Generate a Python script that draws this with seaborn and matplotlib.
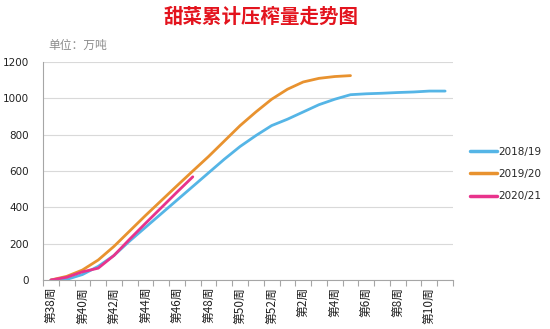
import numpy as np
import pandas as pd
import matplotlib
matplotlib.use("Agg")
import matplotlib.pyplot as plt
import seaborn as sns
from matplotlib.ticker import FixedLocator
from matplotlib.lines import Line2D

weeks = [f"第{w}周" for w in list(range(38, 53)) + list(range(1, 12))]
s1819 = [0, 3, 30, 75, 135, 215, 290, 365, 440, 515, 590, 665, 735, 795, 850, 885,
         925, 965, 995, 1020, 1025, 1028, 1032, 1035, 1040, 1040]
s1920 = [0, 20, 55, 110, 185, 270, 355, 437, 519, 600, 680, 765, 850, 925, 995, 1050,
         1090, 1110, 1120, 1125]
s2021 = [0, 15, 45, 65, 135, 225, 312, 398, 484, 568]
series_names = ["2018/19", "2019/20", "2020/21"]
colors = ["#55b5e6", "#e8922f", "#e8338c"]

rows = []
for name, vals in zip(series_names, [s1819, s1920, s2021]):
    for i, v in enumerate(vals):
        rows.append({"idx": i, "value": v, "season": name})
df = pd.DataFrame(rows)

sns.set_theme(style="white")
plt.rcParams["font.family"] = ["Noto Sans CJK SC", "DejaVu Sans"]

fig = plt.figure(figsize=(5.5, 3.29), dpi=100)
ax = fig.add_axes([43 / 550, 1 - 280 / 329, 410 / 550, 218 / 329])
sns.lineplot(data=df, x="idx", y="value", hue="season", palette=colors,
             linewidth=2.0, ax=ax, legend=False)

ax.set_xlim(-0.5, len(weeks) - 0.5)
ax.set_ylim(0, 1200)
ax.set_yticks(range(0, 1201, 200))
ax.set_yticklabels([str(v) for v in range(0, 1201, 200)], family="DejaVu Sans",
                   fontsize=7.5, color="#222222")
ax.yaxis.grid(True, color="#d9d9d9", linewidth=0.8)
ax.xaxis.grid(False)
for sp in ["top", "right"]:
    ax.spines[sp].set_visible(False)
ax.spines["left"].set_color("#a6a6a6")
ax.spines["bottom"].set_color("#a6a6a6")
ax.spines["left"].set_linewidth(0.8)
ax.spines["bottom"].set_linewidth(0.8)

label_idx = list(range(0, len(weeks), 2))
ax.set_xticks(label_idx)
ax.set_xticklabels([weeks[i] for i in label_idx], rotation=90, fontsize=8.5, color="#222222")
ax.xaxis.set_minor_locator(FixedLocator(np.arange(-0.5, len(weeks), 1)))
ax.tick_params(axis="x", which="major", length=0, pad=5)
ax.tick_params(axis="x", which="minor", length=4, color="#a6a6a6", width=0.8, bottom=True)
ax.tick_params(axis="y", length=0, pad=10)
ax.set_xlabel("")
ax.set_ylabel("")

fig.text(261 / 550, 1 - 17 / 329, "甜菜累计压榨量走势图", ha="center", va="center",
         fontsize=14, fontweight="bold", color="#e3141e")
fig.text(48 / 550, 1 - 45 / 329, "单位：万吨", ha="left", va="center",
         fontsize=8.5, color="#8c8c8c")

handles = [Line2D([0], [0], color=c, linewidth=2.5) for c in colors]
fig.legend(handles, series_names, loc="center left", bbox_to_anchor=(470 / 550, 1 - 174 / 329),
           frameon=False, prop={"family": "DejaVu Sans", "size": 7.5}, handlelength=2.6,
           handletextpad=0.15, labelspacing=1.2, borderaxespad=0, borderpad=0)

fig.savefig("out.png", dpi=100)
